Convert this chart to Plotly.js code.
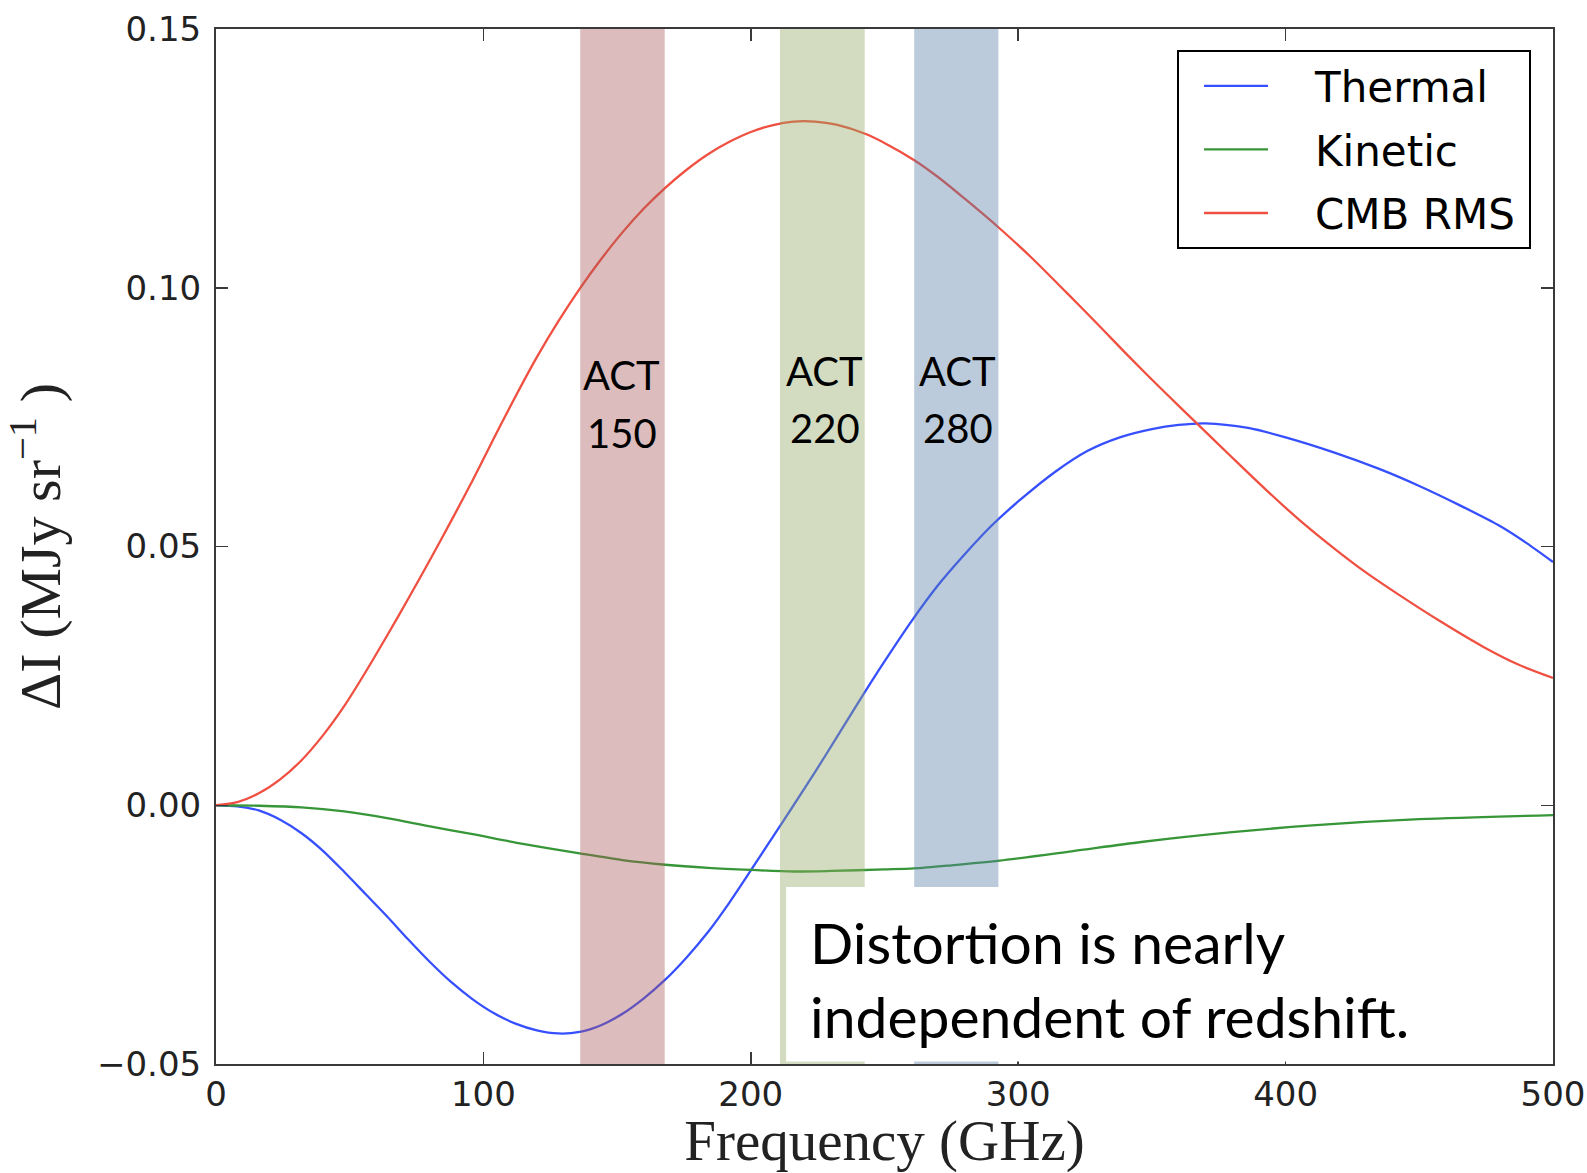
<!DOCTYPE html>
<html>
<head>
<meta charset="utf-8">
<script src="https://cdn.plot.ly/plotly-3.0.1.min.js"></script>
<style>html,body{margin:0;padding:0;background:#fff;}#chart{width:1587px;height:1173px;}</style>
</head>
<body>
<div id="chart"></div>
<script>
// ---- Data ----
const seriesNames = ["Thermal", "Kinetic", "CMB RMS"];

const thermalFreq = [0,8,16,24,32,40,48,56,64,72,80,88,96,104,112,120,128,136,144,152,160,168,176,184,192,200,208,216,224,232,240,250,260,270,280,290,300,314,326,338,350,360,370,386,400,418,435,450,465,480,490,500];
const thermalVal  = [0,-0.0002,-0.0010,-0.0028,-0.0054,-0.0088,-0.0129,-0.0172,-0.0215,-0.0260,-0.0303,-0.0342,-0.0375,-0.0402,-0.0422,-0.0435,-0.0441,-0.0438,-0.0425,-0.0403,-0.0373,-0.0337,-0.0294,-0.0245,-0.0188,-0.0126,-0.0063,0.0000,0.0064,0.0130,0.0197,0.0278,0.0355,0.0425,0.0485,0.0540,0.0587,0.0645,0.0685,0.0711,0.0727,0.0735,0.0738,0.0729,0.0711,0.0682,0.0650,0.0617,0.0580,0.0540,0.0507,0.0470];

const kineticFreq = [0,16,32,48,64,80,96,112,136,152,168,184,200,216,230,250,261,275,293,320,346,380,410,450,500];
const kineticVal  = [0,-0.0001,-0.0004,-0.0012,-0.0025,-0.0041,-0.0056,-0.0072,-0.0093,-0.0106,-0.0115,-0.0121,-0.0125,-0.0128,-0.0127,-0.0124,-0.0122,-0.0116,-0.0107,-0.0089,-0.0071,-0.0052,-0.0039,-0.0027,-0.0019];

const cmbFreq = [0,8,16,24,32,40,48,56,64,72,80,88,96,104,112,120,128,136,144,152,160,168,176,184,192,200,208,216,224,232,243,251,261,270,280,293,305,318,330,342,355,367,380,393,405,418,430,442,458,474,487,500];
const cmbVal  = [0,0.0006,0.0023,0.0050,0.0087,0.0135,0.0192,0.0258,0.0328,0.0400,0.0474,0.0550,0.0628,0.0710,0.0790,0.0866,0.0935,0.0998,0.1055,0.1107,0.1153,0.1193,0.1228,0.1258,0.1282,0.1301,0.1314,0.1321,0.1321,0.1315,0.1297,0.1277,0.1247,0.1214,0.1172,0.1115,0.1058,0.0991,0.0928,0.0864,0.0797,0.0737,0.0672,0.0608,0.0552,0.0497,0.0450,0.0408,0.0355,0.0306,0.0272,0.0246];

// ACT frequency bands (GHz)
const bandNames = ["150", "220", "280"];
const bandLow   = [136.2, 210.9, 261.1];
const bandHigh  = [167.8, 242.6, 292.6];

const xTickVals = [0, 100, 200, 300, 400, 500];
const yTickVals = [-0.05, 0, 0.05, 0.10, 0.15];

const noteLines = ["Distortion is nearly", "independent of redshift."];

// ---- Styles ----
const lineColors = ["rgb(55,80,255)", "rgb(55,150,55)", "rgb(240,80,65)"];
const bandColors = ["rgba(168,88,88,0.40)", "rgba(145,168,98,0.40)", "rgba(88,125,168,0.40)"];
const bandLabelX = [151.8, 227.6, 277.3];
const bandLabelY1 = [0.0832, 0.0840, 0.0840];
const bandLabelY2 = [0.0719, 0.0729, 0.0729];

const xs = [thermalFreq, kineticFreq, cmbFreq];
const ys = [thermalVal, kineticVal, cmbVal];

const traces = seriesNames.map((n, i) => ({
  type: "scatter", mode: "lines", name: "\u2002\u2002" + n + "\u2009",
  x: xs[i], y: ys[i],
  legendgroup: "g" + i,
  line: {color: lineColors[i], width: 2.3, shape: "spline", smoothing: 0.8}
}));

const shapes = bandNames.map((b, i) => ({
  type: "rect", xref: "x", yref: "y", layer: "above",
  x0: bandLow[i], x1: bandHigh[i], y0: -0.05, y1: 0.15,
  fillcolor: bandColors[i], line: {width: 0}
}));
// white note box
shapes.push({
  type: "rect", xref: "x", yref: "y", layer: "above",
  x0: 213.2, x1: 499.5, y0: -0.0495, y1: -0.0158,
  fillcolor: "#ffffff", line: {width: 0}
});

const annotations = [];
bandNames.forEach((b, i) => {
  annotations.push({x: bandLabelX[i], y: bandLabelY1[i], xref: "x", yref: "y", text: "ACT", showarrow: false,
    font: {family: "Lato, 'Noto Sans', sans-serif", size: 40, color: "#000"}});
  annotations.push({x: bandLabelX[i], y: bandLabelY2[i], xref: "x", yref: "y", text: b, showarrow: false,
    font: {family: "Lato, 'Noto Sans', sans-serif", size: 40, color: "#000"}});
});
annotations.push({
  x: 221.4, y: -0.0335, xref: "x", yref: "y", xanchor: "left", yanchor: "middle", align: "left",
  text: noteLines.join("<br>"), showarrow: false,
  font: {family: "Lato, 'Noto Sans', sans-serif", size: 57, color: "#000"}
});

const axisCommon = {
  showline: true, linecolor: "#3a3a3a", linewidth: 2, mirror: "ticks",
  ticks: "inside", ticklen: 12, tickwidth: 1.5, tickcolor: "#3a3a3a",
  showgrid: false, zeroline: false,
  tickfont: {family: "'DejaVu Sans', sans-serif", size: 34, color: "#222"}
};

const layout = {
  width: 1587, height: 1173,
  margin: {l: 216, r: 34, t: 29, b: 109},
  paper_bgcolor: "#fff", plot_bgcolor: "#fff",
  showlegend: true,
  xaxis: Object.assign({}, axisCommon, {
    range: [0, 500], tickvals: xTickVals, ticktext: xTickVals.map(String),
    ticklabelstandoff: -1,
    title: {text: "Frequency (GHz)", standoff: 6, font: {family: "'Liberation Serif', serif", size: 57, color: "#222"}}
  }),
  yaxis: Object.assign({}, axisCommon, {
    range: [-0.05, 0.15], tickvals: yTickVals, tickformat: ".2f",
    ticklabelstandoff: 6,
    title: {text: "ΔI (MJy sr<sup>−1</sup> )", standoff: 22, font: {family: "'Liberation Serif', serif", size: 58, color: "#222"}}
  }),
  legend: {
    x: 0.7188, y: 0.9797, xanchor: "left", yanchor: "top",
    bgcolor: "#fff", bordercolor: "#000", borderwidth: 2,
    font: {family: "'DejaVu Sans', sans-serif", size: 42, color: "#000"},
    traceorder: "grouped", tracegroupgap: 6, itemwidth: 64, indentation: 20
  },
  shapes: shapes,
  annotations: annotations
};

Plotly.newPlot("chart", traces, layout, {staticPlot: true});
</script>
</body>
</html>
